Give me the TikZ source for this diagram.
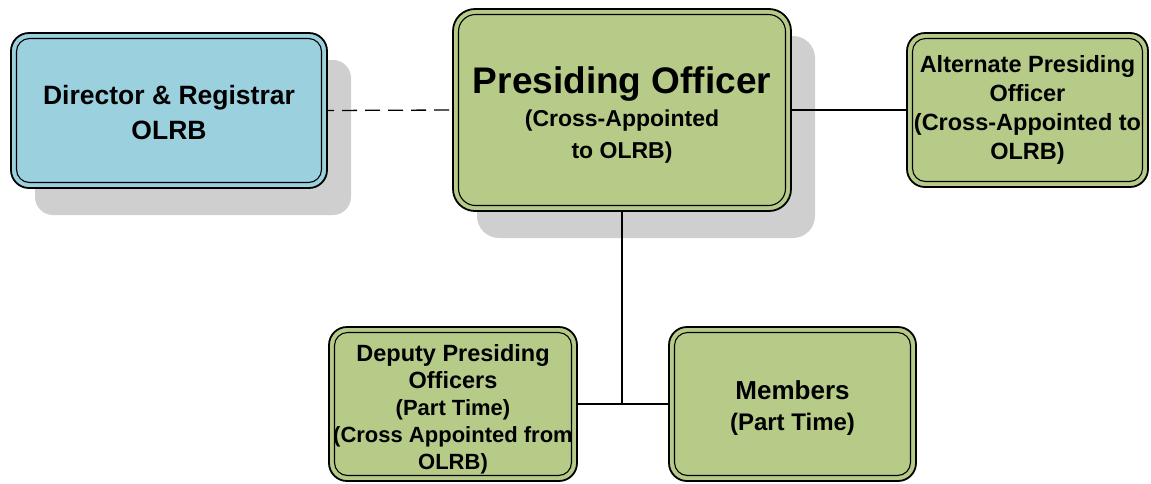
\documentclass[tikz,border=0pt]{standalone}
\usepackage{fontspec}
\setmainfont{Liberation Sans}
\usetikzlibrary{shadows}
\definecolor{boxblue}{RGB}{155,209,222}
\definecolor{boxgreen}{RGB}{183,203,137}
\begin{document}
\begin{tikzpicture}[x=1pt, y=-1pt,
  box/.style={draw, line width=1.8pt, rounded corners=18pt, inner sep=0pt, outer sep=0pt, align=center},
  boxshadow/.style={drop shadow={shadow xshift=24pt, shadow yshift=-27pt, fill=black!19, opacity=1}},
  innerline/.style={line width=1.1pt, rounded corners=13pt},
  link/.style={line width=1.3pt}]
\useasboundingbox (0,0) rectangle (1151,483);
\node[box, boxshadow, fill=boxblue, minimum width=316pt, minimum height=155pt,
  font=\bfseries\fontsize{26.5}{35}\selectfont] (dir) at (169,110.5)
  {\rule{0pt}{23.5pt}Director \& Registrar\\OLRB};
\node[box, boxshadow, fill=boxgreen, minimum width=338pt, minimum height=202pt, rounded corners=22pt,
  font=\bfseries\fontsize{23}{32.5}\selectfont] (pres) at (622,110)
  {{\fontsize{37}{32.5}\selectfont\rule{0pt}{37pt}Presiding Officer}\\(Cross-Appointed\\to OLRB)};
\node[box, fill=boxgreen, minimum width=241pt, minimum height=154pt,
  font=\bfseries\fontsize{23.5}{29}\selectfont] (alt) at (1027.5,110)
  {Alternate Presiding\\Officer\\(Cross-Appointed to\\OLRB)};
\node[box, fill=boxgreen, minimum width=248pt, minimum height=154pt,
  font=\bfseries\fontsize{22}{27}\selectfont] (dep) at (453,404)
  {{\fontsize{23.5}{27}\selectfont\rule{0pt}{27pt}Deputy Presiding}\\{\fontsize{23.5}{27}\selectfont Officers}\\(Part Time)\\(Cross Appointed from\\OLRB)};
\node[box, fill=boxgreen, minimum width=247pt, minimum height=154pt,
  font=\bfseries\fontsize{24}{31}\selectfont] (mem) at (792.5,404)
  {{\fontsize{26}{31}\selectfont\rule{0pt}{27pt}Members}\\(Part Time)};
\foreach \n in {dir,alt,dep,mem}
  \draw[innerline] ([xshift=5.5pt,yshift=-5.5pt]\n.north west) rectangle ([xshift=-5.5pt,yshift=5.5pt]\n.south east);
\draw[innerline, rounded corners=17pt] ([xshift=5.5pt,yshift=-5.5pt]pres.north west) rectangle ([xshift=-5.5pt,yshift=5.5pt]pres.south east);
\coordinate (join) at (pres.south |- dep.east);
\draw[link, dash pattern=on 15pt off 8pt, dash phase=8pt] (dir.east) -- (pres.west);
\draw[link] (pres.east) -- (alt.west);
\draw[link] (pres.south) -- (join);
\draw[link] (dep.east) -- (mem.west);
\end{tikzpicture}
\end{document}
